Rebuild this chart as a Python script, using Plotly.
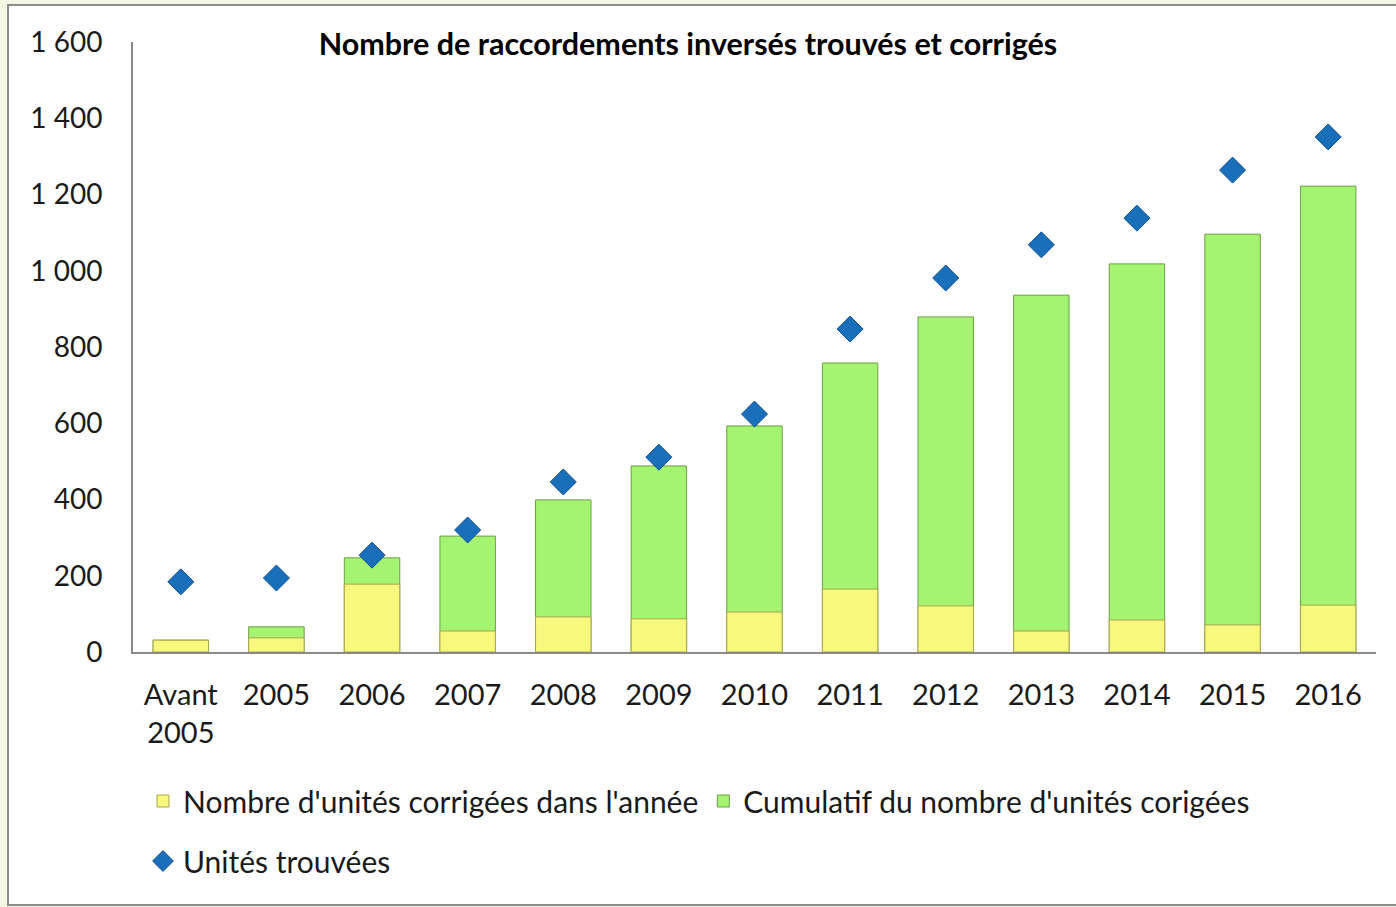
import plotly.graph_objects as go

categories = ["Avant<br>2005", "2005", "2006", "2007", "2008", "2009", "2010",
              "2011", "2012", "2013", "2014", "2015", "2016"]
corrigees_annee = [31, 37, 178, 55, 92, 87, 105, 165, 121, 55, 84, 71, 123]
cumulatif = [31, 66, 247, 304, 399, 488, 593, 758, 879, 936, 1018, 1096, 1222]
trouvees = [184, 194, 254, 320, 446, 511, 624, 847, 981, 1068, 1138, 1264, 1351]

W, H = 1396, 907
ML, MR, MT, MB = 133, 20, 42, 255
pw = W - ML - MR
ph = H - MT - MB

def px_x(p):
    return (p - ML) / pw

def px_y(p):
    return 1 - (p - MT) / ph

FONT = "Lato, 'Open Sans', sans-serif"

fig = go.Figure()
fig.add_trace(go.Bar(
    x=categories, y=cumulatif, name="Cumulatif du nombre d'unités corigées",
    marker=dict(color="#a4f472", line=dict(color="#6e9e45", width=1)),
    width=0.58, legend="legend", legendrank=2,
))
fig.add_trace(go.Bar(
    x=categories, y=corrigees_annee, name="Nombre d'unités corrigées dans l'année",
    marker=dict(color="#f8f77e", line=dict(color="#a8a74e", width=1)),
    width=0.58, legend="legend", legendrank=1,
))
fig.add_trace(go.Scatter(
    x=categories, y=trouvees, name="Unités trouvées", mode="markers",
    marker=dict(symbol="diamond", size=20, color="#1a6fba",
                line=dict(color="#0f4f8f", width=1)),
    legend="legend2",
))

fig.update_layout(
    width=W, height=H,
    margin=dict(l=ML, r=MR, t=MT, b=MB),
    barmode="overlay",
    paper_bgcolor="#f4f7e2",
    plot_bgcolor="rgba(0,0,0,0)",
    separators=", ",
    font=dict(family=FONT, size=28, color="#1a1a1a"),
    title=dict(text="<b>Nombre de raccordements inversés trouvés et corrigés</b>",
               x=px_x(688), xanchor="center", xref="paper",
               y=1 - 44 / H, yanchor="middle",
               font=dict(family=FONT, size=30.5, color="#000000")),
    xaxis=dict(showgrid=False, showline=True, linecolor="#8a8a8a", linewidth=2,
               ticks="", ticklabelstandoff=16, zeroline=False,
               range=[-0.5, 12.5], tickfont=dict(size=29)),
    yaxis=dict(range=[0, 1600], dtick=200, tickformat=",d", showgrid=False,
               showline=True, linecolor="#8a8a8a", linewidth=2, ticks="",
               ticklabelstandoff=23, zeroline=False, tickfont=dict(size=28)),
    legend=dict(orientation="h", x=px_x(143), xanchor="left",
                y=px_y(775), yanchor="top", bgcolor="rgba(0,0,0,0)",
                font=dict(size=30), itemwidth=30, tracegroupgap=0),
    legend2=dict(orientation="h", x=px_x(143), xanchor="left",
                 y=px_y(835), yanchor="top", bgcolor="rgba(0,0,0,0)",
                 font=dict(size=30), itemwidth=30),
    shapes=[dict(type="rect", xref="paper", yref="paper", layer="below",
                 x0=px_x(8), x1=px_x(1420), y0=px_y(905), y1=px_y(5),
                 fillcolor="#ffffff", line=dict(color="#8c8c8c", width=2))],
    showlegend=True,
)

fig.write_html("out.html",
               config={"displayModeBar": False},
               post_script="document.body.style.margin='0';"
                           "document.body.style.background='#f4f7e2';")
